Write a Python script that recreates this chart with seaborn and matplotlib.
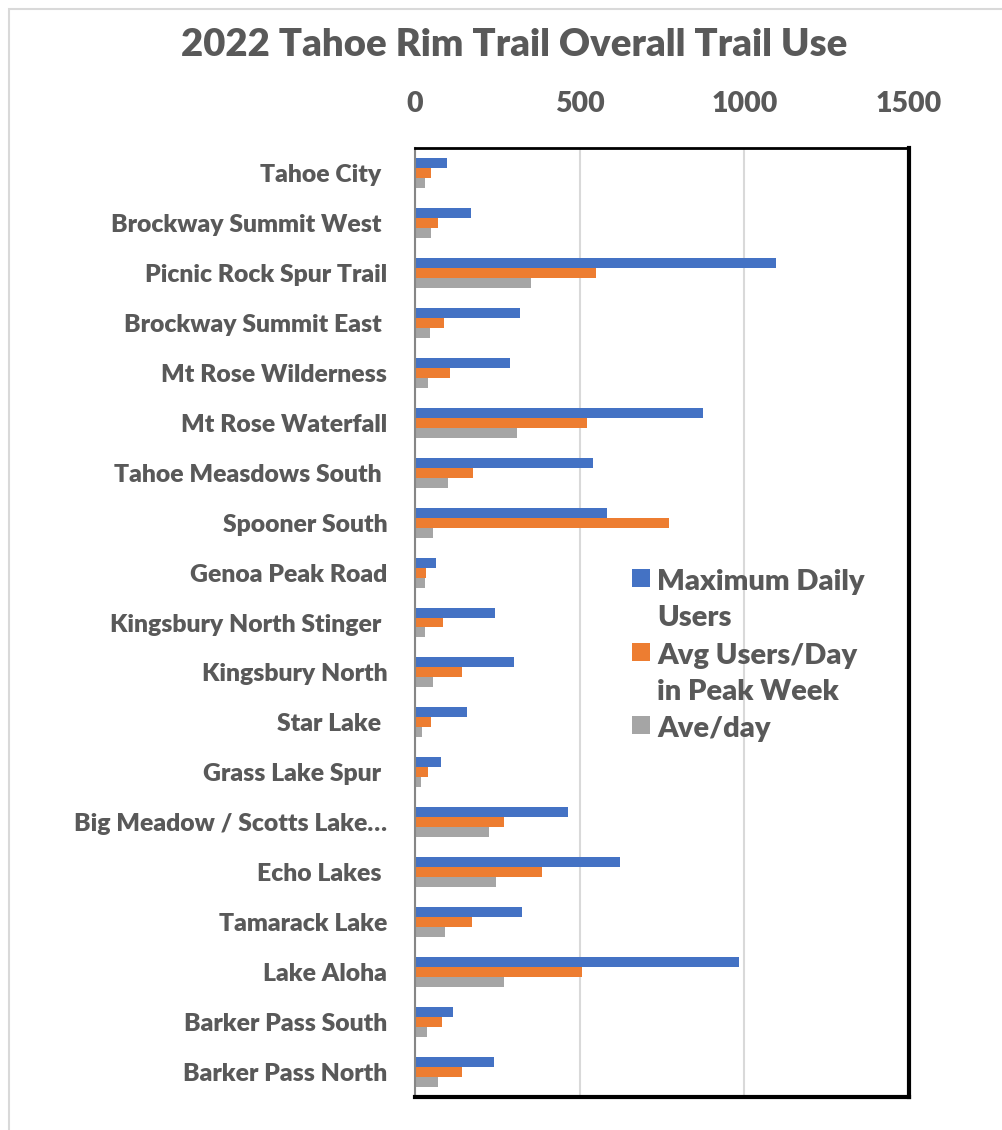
import matplotlib
matplotlib.use("Agg")
import matplotlib.pyplot as plt
from matplotlib.patches import Rectangle
import seaborn as sns
import pandas as pd

trails = ["Tahoe City ", "Brockway Summit West ", "Picnic Rock Spur Trail",
          "Brockway Summit East ", "Mt Rose Wilderness", "Mt Rose Waterfall",
          "Tahoe Measdows South ", "Spooner South", "Genoa Peak Road",
          "Kingsbury North Stinger ", "Kingsbury North", "Star Lake ",
          "Grass Lake Spur ", "Big Meadow / Scotts Lake\u2026", "Echo Lakes ",
          "Tamarack Lake", "Lake Aloha", "Barker Pass South", "Barker Pass North"]
max_daily = [97, 169, 1097, 319, 287, 875, 540, 584, 63, 242, 300, 157, 78,
             466, 622, 325, 985, 115, 239]
avg_peak = [50, 70, 550, 89, 105, 522, 177, 771, 33, 86, 144, 50, 38,
            270, 386, 173, 508, 81, 144]
ave_day = [29, 49, 352, 47, 38, 310, 101, 56, 29, 29, 54, 21, 18,
           225, 247, 90, 269, 35, 70]
series_names = ["Maximum Daily\nUsers", "Avg Users/Day\nin Peak Week", "Ave/day"]
colors = ["#4472C4", "#ED7D31", "#A5A5A5"]
x_ticks = [0, 500, 1000, 1500]
title = "2022 Tahoe Rim Trail Overall Trail Use"

rows = []
for name, vals in zip(series_names, [max_daily, avg_peak, ave_day]):
    for t, v in zip(trails, vals):
        rows.append({"Trail": t, "Series": name, "Value": v})
df = pd.DataFrame(rows)

sns.set_theme(style="white")
FONT = ["Lato", "DejaVu Sans"]
plt.rcParams["font.family"] = FONT
TXT = "#595959"
W = "heavy"

fig = plt.figure(figsize=(10.02, 11.30), dpi=100)
ax = fig.add_axes([415/1002, 1-1097/1130, (909-415)/1002, (1097-148)/1130])

sns.barplot(data=df, y="Trail", x="Value", hue="Series", orient="h",
            order=trails, hue_order=series_names, palette=colors,
            width=0.6, saturation=1, linewidth=0, ax=ax)

ax.set_xlim(0, 1500)
ax.set_xticks(x_ticks)
ax.xaxis.tick_top()
ax.set_xlabel("")
ax.set_ylabel("")
ax.tick_params(axis="x", length=0, pad=22, labelsize=20.5, labelcolor=TXT)
ax.tick_params(axis="y", length=0, pad=20, labelsize=17.8, labelcolor=TXT)
for lab in ax.get_xticklabels() + ax.get_yticklabels():
    lab.set_fontweight(W)
ax.grid(axis="x", color="#D9D9D9", linewidth=1.5)
ax.set_axisbelow(True)
for side, lw, c in [("top", 2, "black"), ("right", 3, "black"),
                    ("bottom", 3, "black"), ("left", 1.5, "#868686")]:
    ax.spines[side].set_visible(True)
    ax.spines[side].set_color(c)
    ax.spines[side].set_linewidth(lw)

handles, labels = ax.get_legend_handles_labels()
old = ax.get_legend()
if old is not None:
    old.remove()
leg = ax.legend(handles, labels, loc="upper left",
                bbox_to_anchor=(632/1002, 1-569/1130), bbox_transform=fig.transFigure,
                frameon=False, borderpad=0, borderaxespad=0,
                handlelength=0.6, handleheight=0.58, handletextpad=0.27,
                labelspacing=0.38,
                prop={"family": FONT, "weight": W, "size": 21})
for t in leg.get_texts():
    t.set_color(TXT)
    t.set_linespacing(1.5)
for col in leg._legend_handle_box.get_children():
    for row in col.get_children():
        row.align = "top"

fig.text(514/1002, 1-45/1130, title, ha="center", va="center",
         fontsize=27.5, fontweight=W, color=TXT)

fig.patches.append(Rectangle((9/1002, -0.1), 1.2, 1-9/1130+0.1,
                             transform=fig.transFigure, fill=False,
                             edgecolor="#D9D9D9", linewidth=1.5))

fig.savefig("out.png", dpi=100)
